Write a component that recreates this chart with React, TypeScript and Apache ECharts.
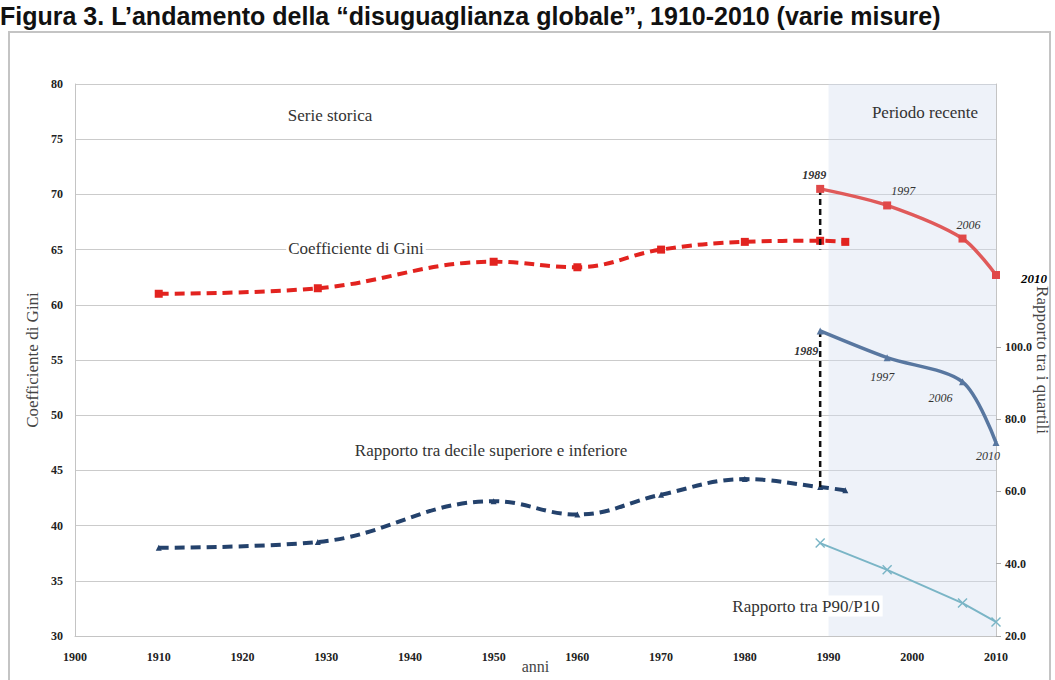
import React, { useEffect, useRef } from "react";
import * as echarts from "echarts";

// ---- Data ----
const histYears = [1910, 1929, 1950, 1960, 1970, 1980, 1989, 1992];
const giniHist = [61.0, 61.5, 63.9, 63.4, 65.0, 65.7, 65.8, 65.7];
const decileHist = [44.4, 46.0, 57.3, 53.6, 59.1, 63.4, 61.2, 60.3]; // right axis
const recentYears = [1989, 1997, 2006, 2010];
const giniRecent = [70.5, 69.0, 66.0, 62.7];
const decileRecent = [104.4, 97.0, 90.3, 73.5]; // right axis
const p90p10Recent = [45.7, 38.3, 29.1, 23.9]; // right axis
const giniConnectorBottom = 65.0;
const rightTickValues = [20, 40, 60, 80, 100];
const shadeRange = [1990, 2010];

// ---- Styling (label placements) ----
const giniLabelPlace: any[] = [
  { position: "top", offset: [-6, 1], fontWeight: "bold" },
  { position: "top", offset: [16, 1] },
  { position: "top", offset: [6, 1] },
  { position: "right", offset: [16, 4], fontWeight: "bold", color: "#000", fontSize: 13 },
];
const decileLabelPlace: any[] = [
  { position: "bottom", offset: [-14, 6], fontWeight: "bold" },
  { position: "bottom", offset: [-5, 5] },
  { position: "bottom", offset: [-22, 2] },
  { position: "bottom", offset: [-8, -1] },
];

const SERIF = "'Liberation Serif', 'DejaVu Serif', serif";

const xSymbol =
  "path://M0,1L1,0L5,4L9,0L10,1L6,5L10,9L9,10L5,6L1,10L0,9L4,5Z";

function pairs(xs: number[], ys: number[]) {
  return xs.map((x, i) => [x, ys[i]]);
}

function labelled(xs: number[], ys: number[], place: any[]) {
  return xs.map((x, i) => ({
    value: [x, ys[i]],
    label: {
      show: true,
      formatter: String(x),
      fontFamily: SERIF,
      fontStyle: "italic",
      fontSize: 12,
      color: "#333",
      ...place[i],
    },
  }));
}

export default function App() {
  const ref = useRef<HTMLDivElement>(null);
  useEffect(() => {
    if (!ref.current) return;
    const chart = echarts.init(ref.current, undefined, { renderer: "svg" });
    const boldLabel = {
      fontFamily: SERIF,
      fontWeight: "bold" as const,
      fontSize: 12,
      color: "#222",
    };
    const annot = (text: string, x: number, y: number, extra: any = {}) => ({
      type: "text",
      x,
      y,
      z: 100,
      style: {
        text,
        fontFamily: SERIF,
        fontSize: 17,
        fill: "#333",
        align: "center",
        verticalAlign: "middle",
        ...extra,
      },
    });
    chart.setOption({
      animation: false,
      backgroundColor: "#fff",
      grid: { left: 75, right: 59, top: 84, bottom: 44, outerBoundsMode: "none", containLabel: false },
      graphic: [
        {
          type: "rect",
          shape: { x: 9, y: 32, width: 1041, height: 680 },
          style: { fill: "none", stroke: "#c4c4c4", lineWidth: 2 },
          z: 0,
        },
        {
          type: "text",
          x: 0,
          y: 3,
          style: {
            text: "Figura 3. L\u2019andamento della \u201cdisuguaglianza globale\u201d, 1910-2010 (varie misure)",
            fontFamily: "'Liberation Sans', Arial, sans-serif",
            fontWeight: "bold",
            fontSize: 25,
            fill: "#111",
            verticalAlign: "top",
          },
        },
        annot("Serie storica", 330, 115),
        annot("Periodo recente", 925, 112),
        annot("Coefficiente di Gini", 356, 248, {
          backgroundColor: "#fff",
          padding: [0, 2],
        }),
        annot("Rapporto tra decile superiore e inferiore", 491, 450),
        annot("Rapporto tra P90/P10", 806, 606, {
          backgroundColor: "#fff",
          padding: [2, 3],
        }),
      ],
      xAxis: {
        type: "value",
        min: 1900,
        max: 2010,
        interval: 10,
        splitLine: { show: false },
        axisLine: { show: true, lineStyle: { color: "#c4c4c4" } },
        axisTick: { show: false },
        axisLabel: { ...boldLabel, margin: 15, formatter: (v: number) => String(v) },
        name: "anni",
        nameLocation: "middle",
        nameGap: 22,
        nameMoveOverlap: false,
        nameTextStyle: { fontFamily: SERIF, fontSize: 16, color: "#444" },
      },
      yAxis: [
        {
          type: "value",
          min: 30,
          max: 80,
          interval: 5,
          splitLine: { show: true, lineStyle: { color: "#cbcbcb", width: 1 } },
          axisLine: { show: true, lineStyle: { color: "#c4c4c4" } },
          axisTick: { show: false },
          axisLabel: { ...boldLabel, margin: 12 },
          name: "Coefficiente di Gini",
          nameLocation: "middle",
          nameGap: 34,
          nameRotate: 90,
          nameMoveOverlap: false,
          nameTextStyle: { fontFamily: SERIF, fontSize: 17, color: "#444" },
        },
        {
          type: "value",
          min: 20,
          max: 172.7,
          position: "right",
          splitLine: { show: false },
          axisLine: { show: true, lineStyle: { color: "#c4c4c4" } },
          axisTick: {
            show: true,
            length: 5,
            customValues: rightTickValues,
            lineStyle: { color: "#aaa" },
          },
          axisLabel: {
            ...boldLabel,
            margin: 9,
            customValues: rightTickValues,
            formatter: (v: number) => v.toFixed(1),
          },
          name: "Rapporto tra i quartili",
          nameLocation: "middle",
          nameGap: 38,
          nameRotate: -90,
          nameMoveOverlap: false,
          nameTextStyle: { fontFamily: SERIF, fontSize: 17, color: "#444" },
        },
      ],
      series: [
        {
          name: "shade",
          type: "line",
          data: [],
          silent: true,
          markArea: {
            silent: true,
            itemStyle: { color: "rgba(210,222,240,0.38)" },
            data: [[{ xAxis: shadeRange[0] }, { xAxis: shadeRange[1] }]],
          },
        },
        {
          name: "Gini storico",
          type: "line",
          smooth: 0.4,
          data: pairs(histYears, giniHist),
          symbol: "rect",
          symbolSize: 8,
          itemStyle: { color: "#e2231f" },
          lineStyle: { color: "#e2231f", width: 4, type: [10, 6] },
          z: 5,
        },
        {
          name: "Decile storico",
          type: "line",
          yAxisIndex: 1,
          smooth: 0.4,
          data: pairs(histYears, decileHist),
          symbol: "triangle",
          symbolSize: 6,
          itemStyle: { color: "#24426c" },
          lineStyle: { color: "#24426c", width: 4, type: [10, 6] },
          z: 5,
        },
        {
          name: "Gini connettore",
          type: "line",
          data: [
            [recentYears[0], giniRecent[0]],
            [recentYears[0], giniConnectorBottom],
          ],
          symbol: "none",
          lineStyle: { color: "#111", width: 2.5, type: [6, 4] },
          z: 6,
        },
        {
          name: "Decile connettore",
          type: "line",
          yAxisIndex: 1,
          data: [
            [recentYears[0], decileRecent[0]],
            [recentYears[0], decileHist[6]],
          ],
          symbol: "none",
          lineStyle: { color: "#111", width: 2.5, type: [6, 4] },
          z: 6,
        },
        {
          name: "Gini recente",
          type: "line",
          smooth: 0.3,
          data: labelled(recentYears, giniRecent, giniLabelPlace),
          symbol: "rect",
          symbolSize: 8,
          itemStyle: { color: "#e04848" },
          lineStyle: { color: "#e05a5a", width: 3.5 },
          z: 7,
        },
        {
          name: "Decile recente",
          type: "line",
          yAxisIndex: 1,
          smooth: 0.3,
          data: labelled(recentYears, decileRecent, decileLabelPlace),
          symbol: "triangle",
          symbolSize: 7,
          itemStyle: { color: "#5877a0" },
          lineStyle: { color: "#5877a0", width: 3.5 },
          z: 7,
        },
        {
          name: "P90/P10",
          type: "line",
          yAxisIndex: 1,
          data: pairs(recentYears, p90p10Recent),
          symbol: xSymbol,
          symbolSize: 10,
          itemStyle: { color: "#7ab5c6" },
          lineStyle: { color: "#7ab5c6", width: 2 },
          z: 7,
        },
      ],
    });
    return () => chart.dispose();
  }, []);
  return (
    <div
      ref={ref}
      style={{ position: "absolute", left: 0, top: 0, width: 1055, height: 680 }}
    />
  );
}
